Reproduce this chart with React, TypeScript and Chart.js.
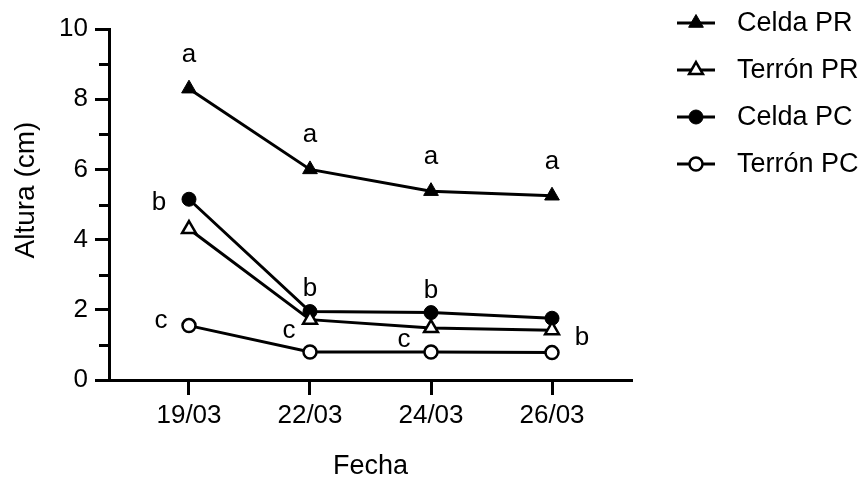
import React, { useEffect, useRef } from 'react';
import { Chart, registerables } from 'chart.js';

Chart.register(...registerables);

const categories = ['19/03', '22/03', '24/03', '26/03'];
const seriesNames = ['Celda PR', 'Terrón PR', 'Celda PC', 'Terrón PC'];
const celdaPR = [8.3, 6.0, 5.38, 5.25];
const terronPR = [4.3, 1.72, 1.48, 1.42];
const celdaPC = [5.15, 1.95, 1.92, 1.76];
const terronPC = [1.55, 0.8, 0.8, 0.78];
const yMinorTicks = [1, 3, 5, 7, 9];
const xTitle = 'Fecha';
const yTitle = 'Altura (cm)';

// significance letters per series and date ('' = none)
const lettersCeldaPR = ['a', 'a', 'a', 'a'];
const lettersTerronPR = ['', '', '', 'b'];
const lettersCeldaPC = ['b', 'b', 'b', ''];
const lettersTerronPC = ['c', 'c', 'c', ''];

const FONT = '"Liberation Sans", Arial, Helvetica, sans-serif';

// placement of letters relative to their point (styling)
const letterOffsets: number[][][] = [
  [[0, -27], [0, -27], [0, -27], [0, -27]],
  [[0, 0], [0, 0], [0, 0], [30, 15]],
  [[-30, 11], [0, -16], [0, -15], [0, 0]],
  [[-28, 2], [-21, -14], [-27, -5], [0, 0]],
];

const lettersPlugin = {
  id: 'letters',
  afterDatasetsDraw(chart: any) {
    const ctx = chart.ctx;
    const all = [lettersCeldaPR, lettersTerronPR, lettersCeldaPC, lettersTerronPC];
    ctx.save();
    ctx.fillStyle = '#000';
    ctx.font = `26px ${FONT}`;
    ctx.textAlign = 'center';
    ctx.textBaseline = 'alphabetic';
    all.forEach((letters, si) => {
      const meta = chart.getDatasetMeta(si);
      letters.forEach((t, pi) => {
        if (!t) return;
        const el = meta.data[pi];
        const [dx, dy] = letterOffsets[si][pi];
        ctx.fillText(t, el.x + dx, el.y + dy);
      });
    });
    ctx.restore();
  },
};

const axisExtrasPlugin = {
  id: 'axisExtras',
  afterDraw(chart: any) {
    const ctx = chart.ctx;
    const y = chart.scales.y;
    const left = chart.chartArea.left;
    ctx.save();
    ctx.strokeStyle = '#000';
    ctx.lineWidth = 3;
    yMinorTicks.forEach((v) => {
      const py = Math.round(y.getPixelForValue(v)) + 0.5;
      ctx.beginPath();
      ctx.moveTo(left - 10, py);
      ctx.lineTo(left, py);
      ctx.stroke();
    });
    // y-axis title
    ctx.fillStyle = '#000';
    ctx.font = `28px ${FONT}`;
    ctx.textAlign = 'center';
    ctx.textBaseline = 'middle';
    ctx.translate(26, 190);
    ctx.rotate(-Math.PI / 2);
    ctx.fillText(yTitle, 0, 0);
    ctx.restore();
  },
};

function drawMarker(ctx: CanvasRenderingContext2D, style: string, r: number, x: number, y: number) {
  ctx.beginPath();
  if (style === 'triangle') {
    let rad = 0;
    ctx.moveTo(x + Math.sin(rad) * r, y - Math.cos(rad) * r);
    rad += (2 * Math.PI) / 3;
    ctx.lineTo(x + Math.sin(rad) * r, y - Math.cos(rad) * r);
    rad += (2 * Math.PI) / 3;
    ctx.lineTo(x + Math.sin(rad) * r, y - Math.cos(rad) * r);
    ctx.closePath();
  } else {
    ctx.arc(x, y, r, 0, Math.PI * 2);
  }
  ctx.fill();
  ctx.stroke();
}

const legendPlugin = {
  id: 'customLegend',
  afterDraw(chart: any) {
    const ctx = chart.ctx;
    ctx.save();
    chart.data.datasets.forEach((ds: any, i: number) => {
      const cy = 23 + 47 * i;
      ctx.strokeStyle = '#000';
      ctx.lineWidth = 3;
      ctx.beginPath();
      ctx.moveTo(677, cy);
      ctx.lineTo(715, cy);
      ctx.stroke();
      ctx.fillStyle = ds.pointBackgroundColor;
      ctx.strokeStyle = '#000';
      ctx.lineWidth = ds.pointBorderWidth;
      drawMarker(ctx, ds.pointStyle, ds.pointRadius, 696, cy);
      ctx.fillStyle = '#000';
      ctx.font = `27px ${FONT}`;
      ctx.textAlign = 'left';
      ctx.textBaseline = 'middle';
      ctx.fillText(ds.label, 737, cy + 1);
    });
    ctx.restore();
  },
};

export default function App() {
  const ref = useRef<HTMLCanvasElement | null>(null);
  useEffect(() => {
    if (!ref.current) return;
    const mk = (vals: number[]) => vals.map((v, i) => ({ x: i, y: v }));
    const styles = [
      { pointStyle: 'triangle', pointRadius: 8.5, fill: '#000', bw: 1 },
      { pointStyle: 'triangle', pointRadius: 8, fill: '#fff', bw: 2.5 },
      { pointStyle: 'circle', pointRadius: 7, fill: '#000', bw: 1 },
      { pointStyle: 'circle', pointRadius: 6.5, fill: '#fff', bw: 2.5 },
    ];
    const values = [celdaPR, terronPR, celdaPC, terronPC];
    const chart = new Chart(ref.current, {
      type: 'line',
      data: {
        datasets: values.map((vals, i) => ({
          label: seriesNames[i],
          data: mk(vals),
          borderColor: '#000',
          borderWidth: 3,
          pointStyle: styles[i].pointStyle,
          pointRadius: styles[i].pointRadius,
          pointHoverRadius: styles[i].pointRadius,
          pointBackgroundColor: styles[i].fill,
          pointBorderColor: '#000',
          pointBorderWidth: styles[i].bw,
          fill: false,
          tension: 0,
        })) as any,
      },
      options: {
        animation: false,
        responsive: false,
        maintainAspectRatio: false,
        layout: { padding: { left: 0, right: 233, top: 29, bottom: 0 } },
        plugins: { legend: { display: false }, tooltip: { enabled: false } },
        scales: {
          x: {
            type: 'linear',
            min: -0.661,
            max: 3.661,
            afterBuildTicks: (s: any) => {
              s.ticks = categories.map((_, i) => ({ value: i }));
            },
            afterFit: (s: any) => {
              s.height = 103;
            },
            ticks: {
              callback: (v: any) => categories[v as number] ?? '',
              color: '#000',
              font: { family: FONT, size: 26 },
              padding: 5,
              maxRotation: 0,
              autoSkip: false,
            },
            grid: {
              drawOnChartArea: false,
              drawTicks: true,
              tickLength: 15,
              tickWidth: 3,
              tickColor: '#000',
            },
            border: { color: '#000', width: 3 },
            title: {
              display: true,
              text: xTitle,
              color: '#000',
              font: { family: FONT, size: 27 },
              padding: { top: -5, bottom: 0 },
            },
          },
          y: {
            min: 0,
            max: 10,
            afterFit: (s: any) => {
              s.width = 109;
            },
            ticks: {
              stepSize: 2,
              color: '#000',
              font: { family: FONT, size: 26 },
              padding: 7,
            },
            grid: {
              drawOnChartArea: false,
              drawTicks: true,
              tickLength: 14,
              tickWidth: 3,
              tickColor: '#000',
            },
            border: { color: '#000', width: 3 },
            title: { display: false },
          },
        },
      } as any,
      plugins: [axisExtrasPlugin, lettersPlugin, legendPlugin],
    });
    return () => chart.destroy();
  }, []);
  return (
    <div style={{ position: 'fixed', left: 0, top: 0, width: 865, height: 483, background: '#fff' }}>
      <canvas ref={ref} width={865} height={483} style={{ width: 865, height: 483 }} />
    </div>
  );
}
